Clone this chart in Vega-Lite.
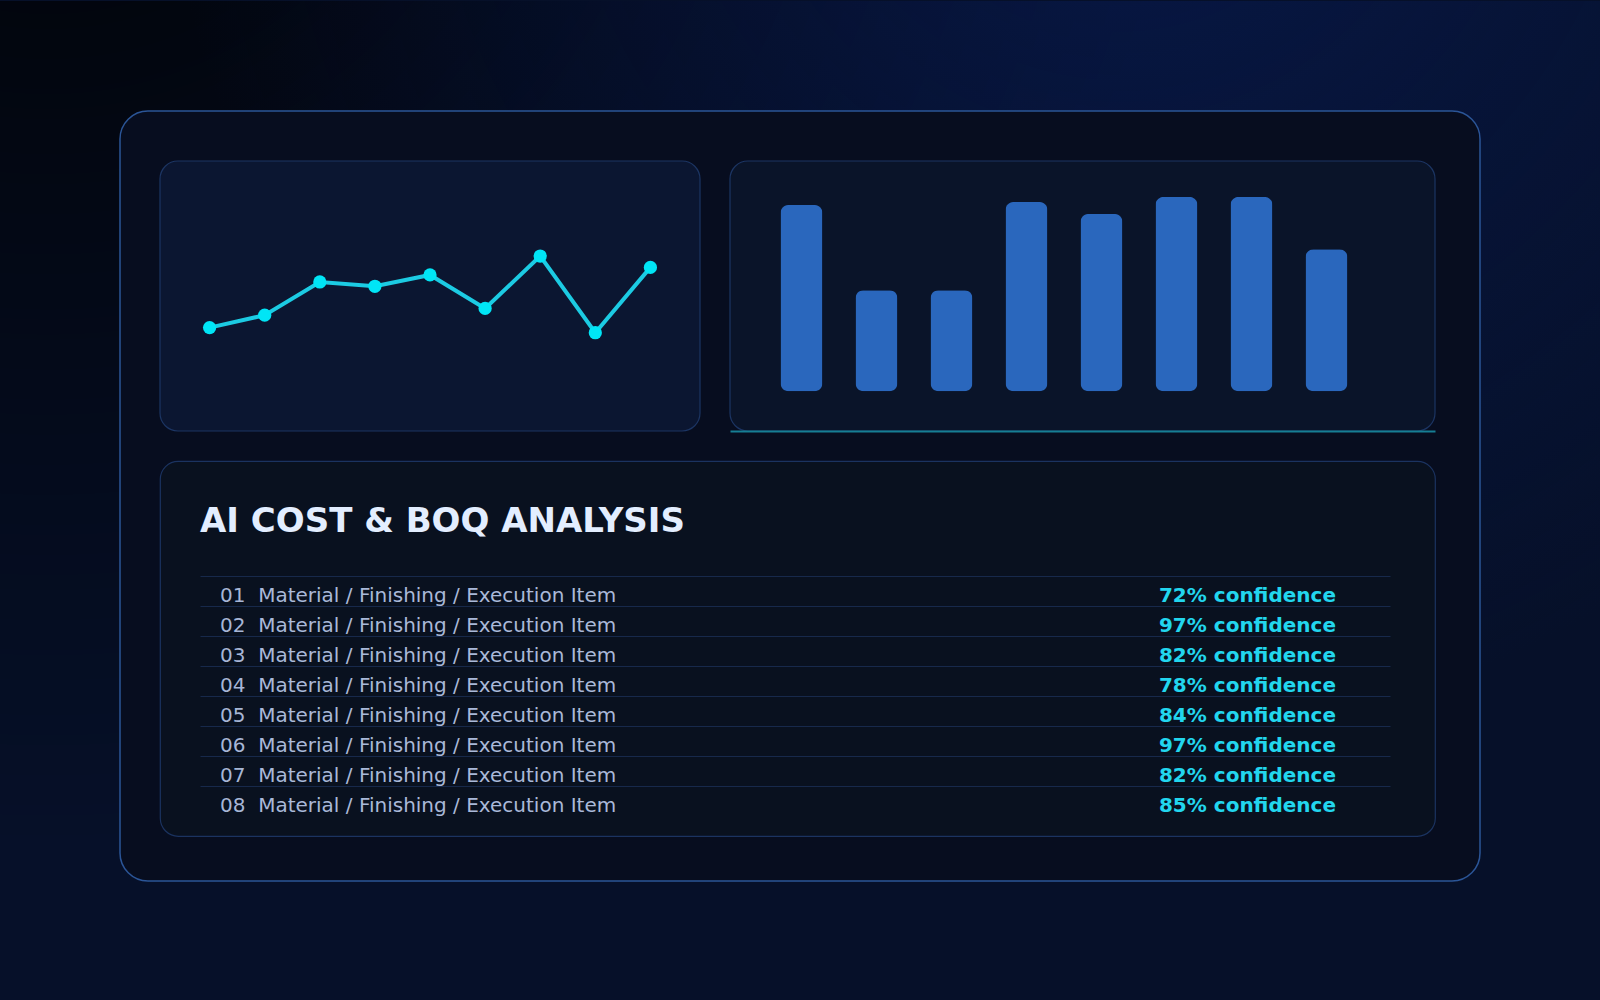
{
  "$schema": "https://vega.github.io/schema/vega-lite/v6.json",
  "padding": 0,
  "background": "#061029",
  "config": {"font": "DejaVu Sans", "view": {"stroke": null}},
  "bounds": "flush",
  "spacing": 30,
  "vconcat": [
    {
      "width": 1275, "height": 270,
      "resolve": {"scale": {"x": "independent", "y": "independent"}, "axis": {"x": "independent", "y": "independent"}},
      "layer": [
        {
          "layer": [
            {
              "data": {"values": [{"layer": "page shade"}]},
              "mark": {"type": "rect", "fill": {"gradient": "radial", "x1": 0.03, "y1": 0.0, "r1": 0, "x2": 0.03, "y2": 0.0, "r2": 0.72,
                "stops": [{"offset": 0, "color": "rgba(0,0,0,0.9)"}, {"offset": 0.5, "color": "rgba(0,0,0,0.45)"}, {"offset": 1, "color": "rgba(0,0,0,0)"}]}},
              "encoding": {
                "x": {"datum": -2.8037, "type": "quantitative", "scale": {"domain": [0.1, 9.9], "range": [0, 540], "nice": false, "zero": false, "padding": 0}, "axis": null},
                "x2": {"datum": 26.233},
                "y": {"datum": 159.26, "type": "quantitative", "scale": {"domain": [0, 100], "nice": false, "padding": 0}, "axis": null},
                "y2": {"datum": -211.11}
              }
            },
            {
              "data": {"values": [{"layer": "page glow"}]},
              "mark": {"type": "rect", "fill": {"gradient": "radial", "x1": 0.7, "y1": 0.05, "r1": 0, "x2": 0.7, "y2": 0.05, "r2": 0.6,
                "stops": [{"offset": 0, "color": "rgba(8,28,88,0.65)"}, {"offset": 0.5, "color": "rgba(8,28,88,0.3)"}, {"offset": 1, "color": "rgba(8,28,88,0)"}]}},
              "encoding": {
                "x": {"datum": -2.8037, "type": "quantitative", "axis": null},
                "x2": {"datum": 26.233},
                "y": {"datum": 159.26, "type": "quantitative", "axis": null},
                "y2": {"datum": -211.11}
              }
            },
            {
              "data": {"values": [{"layer": "frame"}]},
              "mark": {"type": "rect", "fill": "#070d1f", "stroke": "#2b5597", "strokeWidth": 1.5, "cornerRadius": 28},
              "encoding": {
                "x": {"datum": -0.6259, "type": "quantitative", "axis": null},
                "x2": {"datum": 24.0556},
                "y": {"datum": 118.519, "type": "quantitative", "axis": null},
                "y2": {"datum": -166.667}
              }
            },
            {
              "data": {"values": [{"layer": "trend panel"}]},
              "mark": {"type": "rect", "fill": "#0b1631", "stroke": "#1c3563", "strokeWidth": 1.2, "cornerRadius": 18},
              "encoding": {
                "x": {"datum": 0.1, "type": "quantitative", "axis": null},
                "x2": {"datum": 9.9},
                "y": {"datum": 0, "type": "quantitative", "axis": null},
                "y2": {"datum": 100}
              }
            },
            {
              "data": {"values": [
                {"period": 1, "value": 38.3},
                {"period": 2, "value": 42.9},
                {"period": 3, "value": 55.2},
                {"period": 4, "value": 53.6},
                {"period": 5, "value": 57.8},
                {"period": 6, "value": 45.4},
                {"period": 7, "value": 64.8},
                {"period": 8, "value": 36.4},
                {"period": 9, "value": 60.6}
              ]},
              "encoding": {
                "x": {"field": "period", "type": "quantitative", "axis": null},
                "y": {"field": "value", "type": "quantitative", "axis": null}
              },
              "layer": [
                {"mark": {"type": "line", "color": "#1ccbe3", "strokeWidth": 4}},
                {"mark": {"type": "circle", "color": "#00e5f6", "opacity": 1, "size": 175}}
              ]
            }
          ]
        },
        {
          "layer": [
            {
              "data": {"values": [{"layer": "bar panel"}]},
              "mark": {"type": "rect", "fill": "#0a1429", "stroke": "#1c3563", "strokeWidth": 1.2, "cornerRadius": 18},
              "encoding": {
                "x": {"datum": 0.04667, "type": "quantitative",
                  "scale": {"domain": [0.04667, 9.44667], "range": [570, 1275], "nice": false, "zero": false, "padding": 0},
                  "axis": {"orient": "bottom", "zindex": 1, "labels": false, "ticks": false, "grid": false, "title": null, "domain": true, "domainColor": "#167e94", "domainWidth": 2}},
                "x2": {"datum": 9.44667},
                "y": {"datum": -17.24, "type": "quantitative", "scale": {"domain": [-17.24, 100], "nice": false, "zero": false, "padding": 0}, "axis": null},
                "y2": {"datum": 100}
              }
            },
            {
              "data": {"values": [
                {"bar": 1, "value": 80.9},
                {"bar": 2, "value": 43.9},
                {"bar": 3, "value": 43.9},
                {"bar": 4, "value": 82.2},
                {"bar": 5, "value": 77.0},
                {"bar": 6, "value": 84.4},
                {"bar": 7, "value": 84.4},
                {"bar": 8, "value": 61.7}
              ]},
              "mark": {"type": "bar", "color": "#2a67bd", "cornerRadius": 8, "width": 42},
              "encoding": {
                "x": {"field": "bar", "type": "quantitative",
                  "axis": {"orient": "bottom", "zindex": 1, "labels": false, "ticks": false, "grid": false, "title": null, "domain": true, "domainColor": "#167e94", "domainWidth": 2}},
                "y": {"field": "value", "type": "quantitative", "axis": null}
              }
            }
          ]
        }
      ]
    },
    {
      "width": 1275, "height": 375,
      "view": {"fill": "#09111f", "stroke": "#1b3360", "strokeWidth": 1.2, "cornerRadius": 18},
      "title": {"text": "AI COST & BOQ ANALYSIS", "anchor": "start", "frame": "group", "orient": "top", "offset": -105, "dx": 40,
        "baseline": "alphabetic", "font": "DejaVu Sans", "fontSize": 34, "fontWeight": "bold", "color": "#e3eeff"},
      "data": {"values": [
        {"id": "01", "item": "Material / Finishing / Execution Item", "confidence": 72, "confidence_label": "72% confidence"},
        {"id": "02", "item": "Material / Finishing / Execution Item", "confidence": 97, "confidence_label": "97% confidence"},
        {"id": "03", "item": "Material / Finishing / Execution Item", "confidence": 82, "confidence_label": "82% confidence"},
        {"id": "04", "item": "Material / Finishing / Execution Item", "confidence": 78, "confidence_label": "78% confidence"},
        {"id": "05", "item": "Material / Finishing / Execution Item", "confidence": 84, "confidence_label": "84% confidence"},
        {"id": "06", "item": "Material / Finishing / Execution Item", "confidence": 97, "confidence_label": "97% confidence"},
        {"id": "07", "item": "Material / Finishing / Execution Item", "confidence": 82, "confidence_label": "82% confidence"},
        {"id": "08", "item": "Material / Finishing / Execution Item", "confidence": 85, "confidence_label": "85% confidence"}
      ]},
      "encoding": {
        "y": {"field": "id", "type": "ordinal",
          "scale": {"type": "band", "paddingInner": 0, "paddingOuter": 0, "range": [115.3, 355.3]},
          "axis": {"labels": false, "ticks": false, "domain": false, "grid": true, "gridColor": "#17294b", "gridWidth": 1, "bandPosition": 0, "title": null}}
      },
      "layer": [
        {
          "mark": {"type": "text", "align": "left", "baseline": "alphabetic", "dy": 10.4, "fontSize": 20, "color": "#a7b6d6"},
          "encoding": {
            "x": {"datum": "item", "type": "nominal", "scale": {"type": "point", "domain": ["item", "confidence"], "range": [40, 1230], "padding": 0.03315, "align": 0.27}, "axis": null},
            "text": {"field": "id"}
          }
        },
        {
          "mark": {"type": "text", "align": "left", "baseline": "alphabetic", "dy": 10.4, "dx": 38.2, "fontSize": 20, "color": "#aab9d9"},
          "encoding": {
            "x": {"datum": "item", "type": "nominal", "axis": null},
            "text": {"field": "item"}
          }
        },
        {
          "mark": {"type": "text", "align": "right", "baseline": "alphabetic", "dy": 10.4, "fontSize": 20, "fontWeight": "bold", "color": "#22d6ee"},
          "encoding": {
            "x": {"datum": "confidence", "type": "nominal", "axis": null},
            "text": {"field": "confidence_label"}
          }
        }
      ]
    }
  ]
}
